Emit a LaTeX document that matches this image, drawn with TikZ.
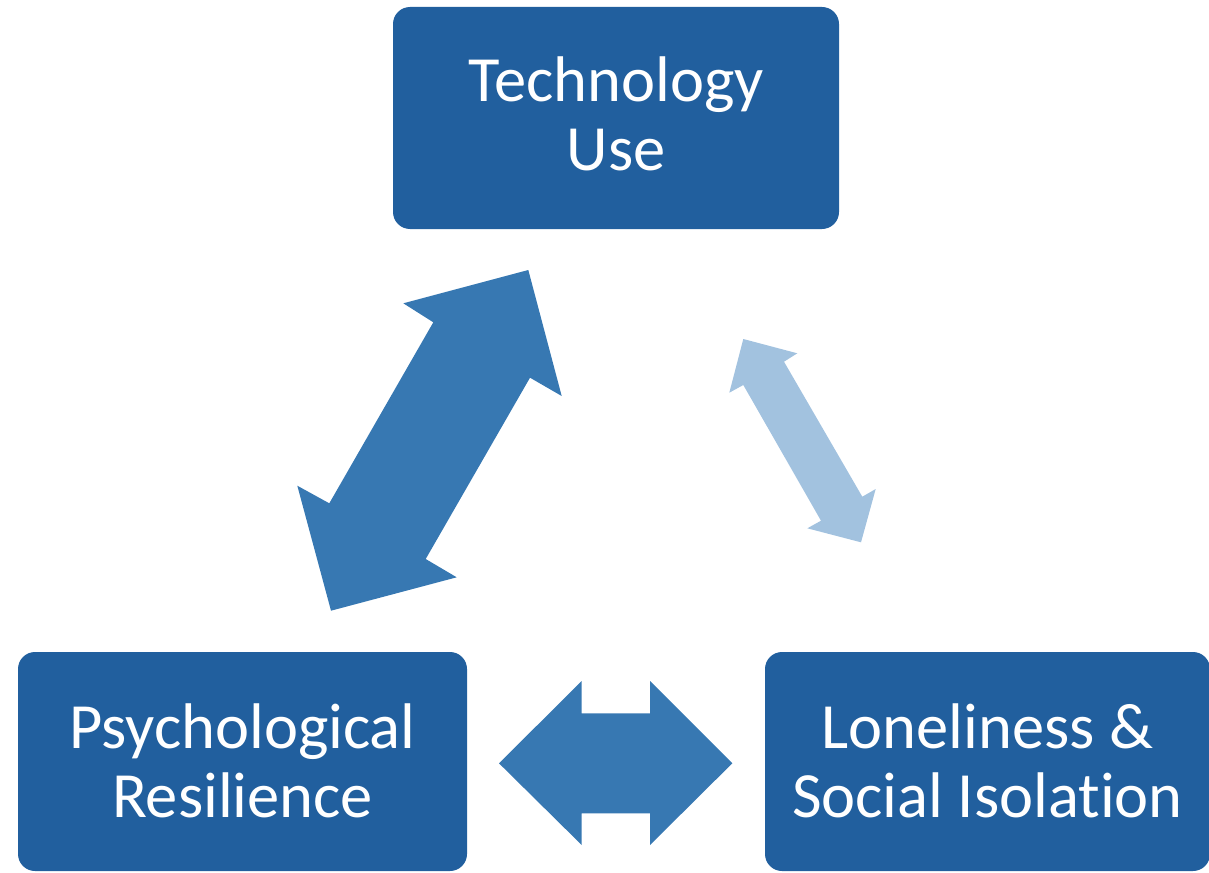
\documentclass[tikz,border=0pt]{standalone}
\usepackage{fontspec}
\setmainfont{Carlito}[Ligatures=NoCommon]
\definecolor{boxblue}{HTML}{215F9E}
\definecolor{arrowblue}{HTML}{3778B2}
\definecolor{paleblue}{HTML}{A2C2DF}
\begin{document}
\begin{tikzpicture}[x=1pt,y=-1pt,
  conceptbox/.style={fill=boxblue, draw=none, rounded corners=17pt, inner sep=0pt,
    text=white, font=\fontsize{64.5}{69}\selectfont,
    text height=48pt, text depth=80pt},
  bigarrow/.style={fill=arrowblue, draw=none},
  softarrow/.style={fill=paleblue, draw=none}]
\useasboundingbox (0,0) rectangle (1209,872);

% the three concepts
\node[conceptbox, minimum width=446pt, minimum height=222pt] (tech) at (616,118)
  {\begin{tabular}[t]{@{}c@{}}Technology\\Use\end{tabular}};
\node[conceptbox, text depth=75pt, minimum width=449pt, minimum height=219pt] (resil) at (242.5,761.5)
  {\begin{tabular}[t]{@{}c@{}}Psychological\\Resilience\end{tabular}};
\node[conceptbox, text depth=75pt, minimum width=445pt, minimum height=219pt] (lonely) at (987.5,761.5)
  {\begin{tabular}[t]{@{}c@{}}Loneliness \&\\Social Isolation\end{tabular}};

% two-headed block arrow: technology use <-> resilience
\fill[bigarrow] (403.3,303.3) -- (528.3,270) -- (561.7,396) -- (530,377.7)
  -- (425.7,559) -- (456.7,577.3) -- (331,610.7) -- (297.3,485.7)
  -- (329.3,503.3) -- (433.3,322.3) -- cycle;

% two-headed block arrow: technology use <-> loneliness
\fill[softarrow] (743.3,339) -- (797.3,353.3) -- (784,361.7) -- (862.3,496.7)
  -- (875.7,489) -- (861,542.3) -- (807.3,528.3) -- (821,520.7)
  -- (743.3,385) -- (729.3,392.7) -- cycle;

% two-headed block arrow: resilience <-> loneliness
\fill[bigarrow] (499,763.3) -- (581.7,681) -- (581.7,713.3) -- (650,713.3)
  -- (650,681) -- (732.3,763.3) -- (650,845) -- (650,813.3)
  -- (581.7,813.3) -- (581.7,845) -- cycle;
\end{tikzpicture}
\end{document}
